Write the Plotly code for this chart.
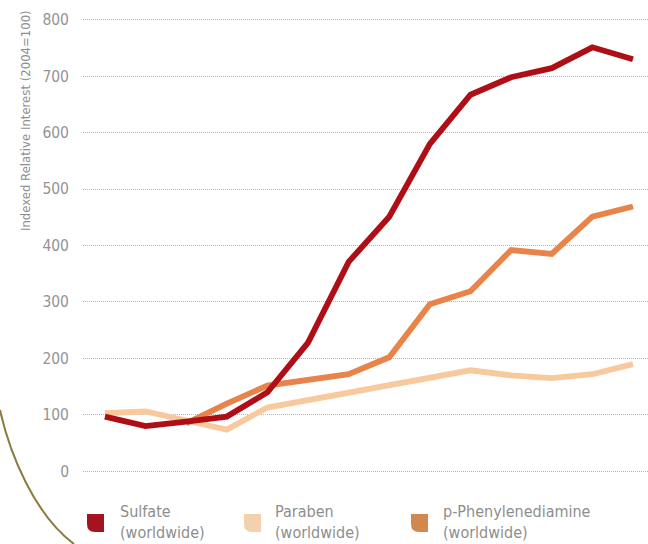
import plotly.graph_objects as go

years = list(range(2004, 2018))
sulfate = [97, 80, 88, 97, 140, 228, 371, 451, 580, 667, 698, 714, 751, 730]
paraben = [103, 106, 90, 74, 113, 126, 139, 152, 165, 179, 170, 165, 172, 190]
ppd = [None, None, 85, 120, 152, 162, 172, 202, 296, 319, 392, 385, 451, 469]

series_names = ["Sulfate", "Paraben", "p-Phenylenediamine"]
series_sub = ["(worldwide)", "(worldwide)", "(worldwide)"]
line_colors = ["#AF0E16", "#F8C99C", "#E8844A"]
icon_colors = ["#A3141F", "#F2D2AC", "#D2874F"]
y_ticks = [0, 100, 200, 300, 400, 500, 600, 700, 800]
y_title = "Indexed Relative Interest (2004=100)"

W, H = 648, 544
ML, MR, MT, MB = 83, 0, 14, 67
PW, PH = W - ML - MR, H - MT - MB

def px(x):
    return (x - ML) / PW

def py(y):
    return (H - MB - y) / PH

FONT = "DejaVu Sans Condensed, Liberation Sans Narrow, Arial Narrow, sans-serif"
GRAY = "#8e8e8e"

fig = go.Figure()
order = [1, 2, 0]  # draw Sulfate on top
all_vals = [sulfate, paraben, ppd]
for i in order:
    fig.add_trace(go.Scatter(x=years, y=all_vals[i], mode="lines", name=series_names[i],
                             line=dict(color=line_colors[i], width=5.8), showlegend=False,
                             connectgaps=False, hoverinfo="skip"))

shapes = []
annotations = []

# decorative arc
arc = [(0, 410), (10, 455), (35, 515), (74, 544)]
path = "M {:.4f},{:.4f} C {:.4f},{:.4f} {:.4f},{:.4f} {:.4f},{:.4f}".format(
    px(arc[0][0]), py(arc[0][1]), px(arc[1][0]), py(arc[1][1]),
    px(arc[2][0]), py(arc[2][1]), px(arc[3][0]), py(arc[3][1]))
shapes.append(dict(type="path", xref="paper", yref="paper", path=path,
                   line=dict(color="#8B7B3E", width=2)))

# legend
icon_x = [87, 244, 411]
text_x = [120, 275, 443]
for i in range(3):
    x0, x1, y0, y1, r = icon_x[i], icon_x[i] + 17, 514, 532, 8
    p = "M {:.4f},{:.4f} L {:.4f},{:.4f} L {:.4f},{:.4f} L {:.4f},{:.4f} Q {:.4f},{:.4f} {:.4f},{:.4f} Z".format(
        px(x0), py(y0), px(x1), py(y0), px(x1), py(y1), px(x0 + r), py(y1),
        px(x0), py(y1), px(x0), py(y1 - r))
    shapes.append(dict(type="path", xref="paper", yref="paper", path=p,
                       fillcolor=icon_colors[i], line=dict(width=0)))
    annotations.append(dict(text=series_names[i], xref="paper", yref="paper",
                            x=px(text_x[i] - 2), y=py(511), xanchor="left", yanchor="middle",
                            showarrow=False, font=dict(family=FONT, size=16, color=GRAY)))
    annotations.append(dict(text=series_sub[i], xref="paper", yref="paper",
                            x=px(text_x[i] - 2), y=py(532), xanchor="left", yanchor="middle",
                            showarrow=False, font=dict(family=FONT, size=16, color=GRAY)))

annotations.append(dict(text=y_title, xref="paper", yref="paper", x=px(25), y=py(121),
                        xanchor="center", yanchor="middle", textangle=-90, showarrow=False,
                        font=dict(family=FONT, size=13, color=GRAY)))

fig.update_layout(
    width=W, height=H,
    margin=dict(l=ML, r=MR, t=MT, b=MB),
    paper_bgcolor="white", plot_bgcolor="white",
    showlegend=False,
    shapes=shapes, annotations=annotations,
    xaxis=dict(range=[2003.46, 2017.37], showticklabels=False, showgrid=False,
               zeroline=False, showline=False, ticks=""),
    yaxis=dict(range=[-10, 810], tickvals=y_ticks, showgrid=True, gridcolor="#b4b4b4",
               griddash="1px,1px", gridwidth=1, zeroline=False, showline=False,
               ticklabelstandoff=13,
               tickfont=dict(family=FONT, size=15.5, color="#949494")),
)

fig.write_html("out.html", config={"displayModeBar": False},
               post_script="document.body.style.margin='0px';document.body.style.padding='0px';")
